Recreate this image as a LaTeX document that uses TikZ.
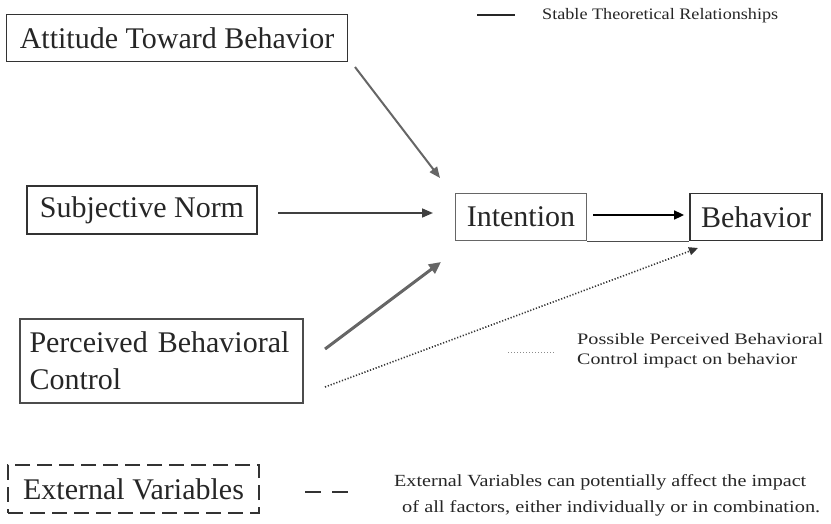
\documentclass[tikz,border=0pt]{standalone}
\usepackage{graphicx}
\usepackage{fontspec}
\setmainfont{Liberation Serif}
\usetikzlibrary{arrows.meta}
\tikzset{
  box/.style={draw=#1, line width=1.8pt, inner sep=0pt, font=\fontsize{30}{37}\selectfont, text=black!85},
  box/.default={black!80},
  tipA/.style={-{Triangle[length=11pt,width=9pt]}},
  smalltxt/.style={anchor=west, inner sep=0pt, font=\fontsize{16}{18}\selectfont, text=black!85},
  bottxt/.style={anchor=west, inner sep=0pt, font=\fontsize{17}{20}\selectfont, text=black!85},
}
\begin{document}
\begin{tikzpicture}[x=1pt,y=-1pt]
\useasboundingbox (0,0) rectangle (831,524);
% boxes
\node[box, minimum width=341pt, minimum height=47pt] (att) at (177,38) {Attitude Toward Behavior};
\node[box, minimum width=230pt, minimum height=48pt] (sub) at (142,210) {Subjective Norm};
\node[box=black!60, minimum width=131pt, minimum height=47pt] (int) at (521,217) {Intention};
\node[box, minimum width=132pt, minimum height=47pt] (beh) at (756,217) {Behavior};
\node[box=black!70, minimum width=283pt, minimum height=84pt, align=left, text width=264pt, inner xsep=9.5pt] (pbc) at (161.5,361) {Perceived Behavioral\\Control};
\node[box, dash pattern=on 15pt off 7pt, line width=2.3pt, minimum width=251pt, minimum height=48pt] (ext) at (133.5,489) {External Variables};
% thin line joining bottoms of intention and behavior
\draw[black!70, line width=0.8pt] (int.south east) -- (beh.south west);
% arrows
\coordinate (a1) at (355,67); \coordinate (a2) at (440,178);
\draw[black!60, line width=2pt, tipA] (a1) -- (a2);
\coordinate (s1) at (278,213); \coordinate (s2) at (433,213);
\draw[black!75, line width=1.6pt, tipA] (s1) -- (s2);
\draw[black, line width=1.6pt, -{Triangle[length=10pt,width=9pt]}, shorten <=6pt, shorten >=5pt] ([yshift=2pt]int.east) -- ([yshift=2pt]beh.west);
\coordinate (p1) at (325,349); \coordinate (p2) at (441,262);
\draw[black!60, line width=3pt, -{Triangle[length=12pt,width=11pt]}] (p1) -- (p2);
\coordinate (d1) at (325,387); \coordinate (d2) at (698,248);
\draw[black!80, line width=1.6pt, dash pattern=on 1.2pt off 1.8pt, -{Triangle[length=9pt,width=8pt]}] (d1) -- (d2);
% legend
\coordinate (l1) at (477,15); \coordinate (l2) at (515,15);
\draw[black!85, line width=2.5pt] (l1) -- (l2);
\node[smalltxt] (t1) at (542,16) {\resizebox{236pt}{\height}{Stable Theoretical Relationships}};
\coordinate (m1) at (508,352); \coordinate (m2) at (555,352);
\draw[black!45, line width=1pt, dash pattern=on 1pt off 2pt] (m1) -- (m2);
\node[smalltxt] (t2) at (577,339) {\resizebox{246pt}{\height}{Possible Perceived Behavioral}};
\node[smalltxt] (t3) at (577,361) {\resizebox{220pt}{\height}{Control impact on behavior}};
\coordinate (e1) at (305,492); \coordinate (e2) at (348,492);
\draw[black!80, line width=2.3pt, dash pattern=on 16pt off 11pt] (e1) -- (e2);
\node[bottxt] (t4) at (394,482) {\resizebox{412pt}{\height}{External Variables can potentially affect the impact}};
\node[bottxt] (t5) at (402,508) {\resizebox{418pt}{\height}{of all factors, either individually or in combination.}};
\end{tikzpicture}
\end{document}
